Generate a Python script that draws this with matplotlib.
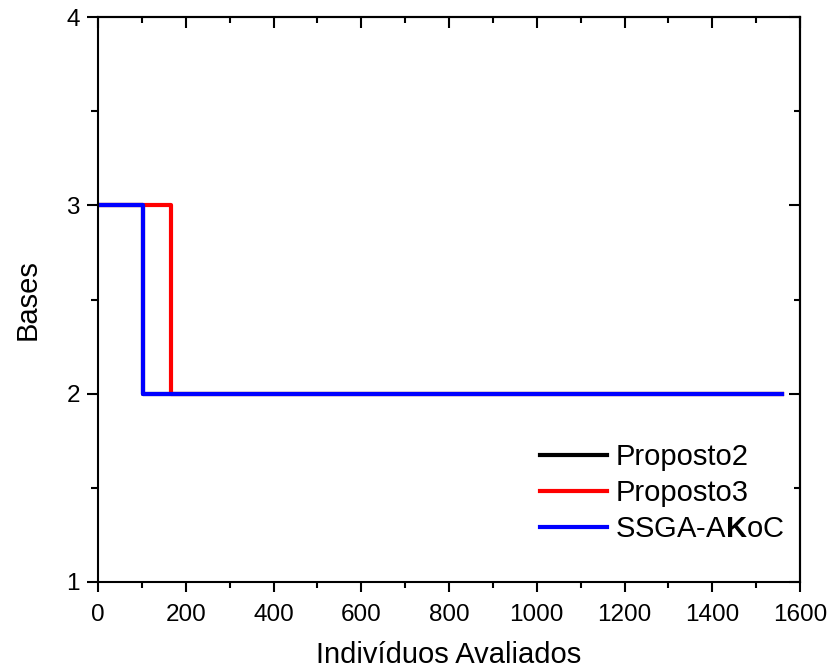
import matplotlib
matplotlib.use("Agg")
import matplotlib.pyplot as plt
from matplotlib.ticker import MultipleLocator

plt.rcParams['font.family'] = ['Liberation Sans', 'DejaVu Sans']
plt.rcParams['mathtext.fontset'] = 'custom'
plt.rcParams['mathtext.rm'] = 'Liberation Sans'
plt.rcParams['mathtext.bf'] = 'Liberation Sans:bold'

# evaluated individuals vs. number of bases (step curves)
x_p2 = [0, 102, 102, 1560]
y_p2 = [3, 3, 2, 2]
x_p3 = [0, 166, 166, 1560]
y_p3 = [3, 3, 2, 2]
x_ssga = [0, 102, 102, 1560]
y_ssga = [3, 3, 2, 2]

W, H = 830, 668
fig = plt.figure(figsize=(W / 100, H / 100), dpi=100)
ax = fig.add_axes([98 / W, 1 - 582 / H, (800 - 98) / W, (582 - 17) / H])

lw = 3.0
ax.plot(x_p2, y_p2, color='black', lw=lw, label='Proposto2')
ax.plot(x_p3, y_p3, color='red', lw=lw, label='Proposto3')
ax.plot(x_ssga, y_ssga, color='blue', lw=lw, label='SSGA-A$\\mathbf{K}$oC')

ax.set_xlim(0, 1600)
ax.set_ylim(1, 4)

for s in ax.spines.values():
    s.set_linewidth(1.5)

def set_locators(axis_x, axis_y):
    if axis_x is not None:
        axis_x.set_major_locator(MultipleLocator(200))
        axis_x.set_minor_locator(MultipleLocator(100))
    if axis_y is not None:
        axis_y.set_major_locator(MultipleLocator(1))
        axis_y.set_minor_locator(MultipleLocator(0.5))

set_locators(ax.xaxis, ax.yaxis)
ax.tick_params(which='major', direction='out', length=8, width=1.5, labelsize=17.5)
ax.tick_params(which='minor', direction='out', length=5, width=1.5)
ax.tick_params(axis='x', which='major', length=7.5)
ax.tick_params(axis='x', which='minor', length=4.5)
ax.tick_params(axis='x', pad=8)
ax.tick_params(axis='y', pad=5)

# inward ticks on the top and right edges
top = ax.secondary_xaxis('top')
set_locators(top.xaxis, None)
top.tick_params(which='major', direction='in', length=8, width=1.5, labeltop=False)
top.tick_params(which='minor', direction='in', length=4.5, width=1.5)
top.spines['top'].set_linewidth(1.5)

right = ax.secondary_yaxis('right')
set_locators(None, right.yaxis)
right.tick_params(which='major', direction='in', length=8, width=1.5, labelright=False)
right.tick_params(which='minor', direction='in', length=4.5, width=1.5)
right.spines['right'].set_linewidth(1.5)

ax.set_xlabel('Indivíduos Avaliados', fontsize=21, labelpad=11)
ax.set_ylabel('Bases', fontsize=21, labelpad=18)

ax.legend(loc='upper left', bbox_to_anchor=(540 / W, 1 - 443 / H),
          bbox_transform=fig.transFigure, frameon=False, fontsize=21,
          borderpad=0, borderaxespad=0,
          handlelength=2.3, handletextpad=0.28, labelspacing=0.27)

fig.savefig('out.png', dpi=100)
